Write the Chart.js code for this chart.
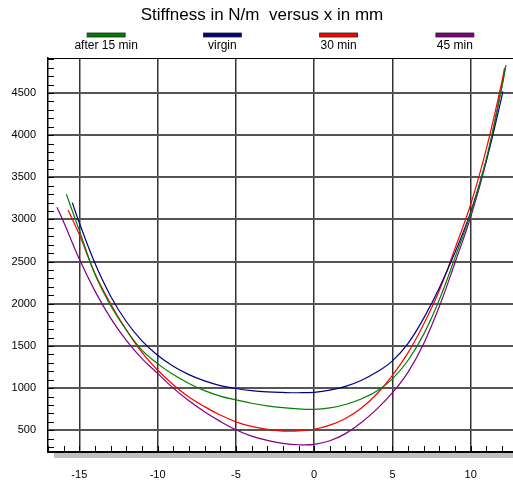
<!DOCTYPE html>
<html>
<head>
<meta charset="utf-8">
<script src="https://cdn.jsdelivr.net/npm/chart.js@4.4.0/dist/chart.umd.min.js"></script>
<style>
  html, body { margin: 0; padding: 0; background: #fff; }
  #wrap { width: 513px; height: 484px; position: relative; }
</style>
</head>
<body>
<div id="wrap"><canvas id="stiffChart"></canvas></div>
<script>
// values (x in mm, stiffness in N/m)
const xAfter15 = [-15.83, -15, -14, -13, -12, -11, -10, -9, -8, -7, -6, -5, -4, -3, -2, -1, 0, 1, 2, 3, 4, 5, 6, 7, 8, 9, 10, 11, 12, 12.25];
const yAfter15 = [3300, 2870, 2350, 1980, 1690, 1450, 1290, 1160, 1055, 970, 905, 860, 820, 790, 768, 753, 748, 765, 805, 870, 965, 1110, 1330, 1640, 2050, 2550, 3075, 3720, 4580, 4830];

const xVirgin = [-15.45, -15, -14, -13, -12, -11, -10, -9, -8, -7, -6, -5, -4, -3, -2, -1, 0, 1, 2, 3, 4, 5, 6, 7, 8, 9, 10, 11, 12, 12.04];
const yVirgin = [3200, 2960, 2480, 2090, 1790, 1560, 1390, 1260, 1160, 1085, 1030, 995, 970, 955, 948, 945, 950, 975, 1020, 1090, 1190, 1323, 1530, 1830, 2190, 2610, 3090, 3700, 4470, 4520];

const x30 = [-15.72, -15, -14, -13, -12, -11, -10, -9, -8, -7, -6, -5, -4, -3, -2, -1, 0, 1, 2, 3, 4, 5, 6, 7, 8, 9, 10, 11, 12, 12.15];
const y30 = [3113, 2820, 2360, 2000, 1690, 1425, 1215, 1040, 895, 780, 680, 600, 545, 510, 490, 492, 512, 560, 640, 760, 930, 1150, 1420, 1760, 2160, 2660, 3180, 3840, 4640, 4790];

const x45 = [-16.43, -16, -15, -14, -13, -12, -11, -10, -9, -8, -7, -6, -5, -4, -3, -2, -1, 0, 1, 2, 3, 4, 5, 6, 7, 8, 9, 10, 11, 12, 12.2];
const y45 = [3145, 2970, 2530, 2150, 1830, 1565, 1350, 1175, 1000, 850, 720, 605, 505, 430, 380, 345, 328, 332, 375, 460, 590, 750, 945, 1190, 1530, 1970, 2490, 3030, 3700, 4590, 4800];

const seriesNames = ['after 15 min', 'virgin', '30 min', '45 min'];
const seriesColors = ['#008000', '#000080', '#ff0000', '#800080'];
const xTicks = [-15, -10, -5, 0, 5, 10];
const yTicks = [500, 1000, 1500, 2000, 2500, 3000, 3500, 4000, 4500];

const titleText = 'Stiffness in N/m  versus x in mm';

function pts(xs, ys) {
  return xs.map((v, i) => ({ x: v, y: ys[i] }));
}

const allData = [pts(xAfter15, yAfter15), pts(xVirgin, yVirgin), pts(x30, y30), pts(x45, y45)];

// title, legend (swatch above label), minor ticks, top border, axis shadow
const decor = {
  id: 'decor',
  afterDraw(chart) {
    const ctx = chart.ctx;
    const a = chart.chartArea;
    const sx = chart.scales.x, sy = chart.scales.y;
    ctx.save();

    ctx.fillStyle = '#c0c0c0';
    ctx.fillRect(a.left + 6, a.bottom + 1, a.right - a.left, 5);

    ctx.strokeStyle = '#000';
    ctx.lineWidth = 1;
    ctx.beginPath();
    for (let v = Math.ceil(sx.min); v <= sx.max; v++) {
      const px = Math.round(sx.getPixelForValue(v)) + 0.5;
      ctx.moveTo(px, a.bottom);
      ctx.lineTo(px, a.bottom - 6);
    }
    for (let v = Math.ceil(sy.min / 100) * 100; v <= sy.max; v += 100) {
      const py = Math.round(sy.getPixelForValue(v)) + 0.5;
      ctx.moveTo(a.left, py);
      ctx.lineTo(a.left + 6, py);
    }
    ctx.moveTo(a.left, a.top + 0.5);
    ctx.lineTo(a.right, a.top + 0.5);
    ctx.stroke();

    ctx.fillStyle = '#000';
    ctx.font = '17px "Liberation Sans", Arial, sans-serif';
    ctx.textAlign = 'center';
    ctx.textBaseline = 'middle';
    ctx.fillText(titleText, 262, 15);

    const slot = (a.right - a.left) / seriesNames.length;
    ctx.font = '12px "Liberation Sans", Arial, sans-serif';
    chart.data.datasets.forEach((ds, i) => {
      const cx = a.left + slot * (i + 0.5);
      ctx.fillStyle = ds.borderColor;
      ctx.fillRect(cx - 19, 33, 38, 4);
      ctx.strokeStyle = '#222';
      ctx.lineWidth = 0.8;
      ctx.strokeRect(cx - 19, 33, 38, 4);
      ctx.fillStyle = '#000';
      ctx.fillText(ds.label, cx, 46);
    });
    ctx.restore();
  }
};

new Chart(document.getElementById('stiffChart'), {
  type: 'line',
  data: {
    datasets: seriesNames.map((name, i) => ({
      label: name,
      data: allData[i],
      borderColor: seriesColors[i],
      backgroundColor: seriesColors[i],
      borderWidth: 1.2,
      pointRadius: 0,
      fill: false,
      tension: 0.4
    }))
  },
  options: {
    responsive: true,
    maintainAspectRatio: false,
    animation: false,
    layout: { padding: { top: 58, right: 0, left: 0, bottom: 0 } },
    plugins: {
      legend: { display: false },
      title: { display: false },
      tooltip: { enabled: false }
    },
    scales: {
      x: {
        type: 'linear',
        min: -17,
        max: 12.7,
        afterBuildTicks: s => { s.ticks = xTicks.map(v => ({ value: v })); },
        afterFit: s => { s.height = 32; },
        ticks: {
          color: '#000',
          padding: 16,
          maxRotation: 0,
          callback: v => String(v),
          font: { family: '"Liberation Sans", Arial, sans-serif', size: 11 }
        },
        grid: { color: '#333', lineWidth: 1.5, drawTicks: false },
        border: { color: '#000', width: 2 }
      },
      y: {
        min: 242,
        max: 4915,
        afterBuildTicks: s => { s.ticks = yTicks.map(v => ({ value: v })); },
        afterFit: s => { s.width = 48; },
        ticks: {
          color: '#000',
          padding: 12,
          callback: v => String(v),
          font: { family: '"Liberation Sans", Arial, sans-serif', size: 11 }
        },
        grid: { color: '#555', lineWidth: 2, drawTicks: false },
        border: { color: '#000', width: 1.5 }
      }
    }
  },
  plugins: [decor]
});
</script>
</body>
</html>
